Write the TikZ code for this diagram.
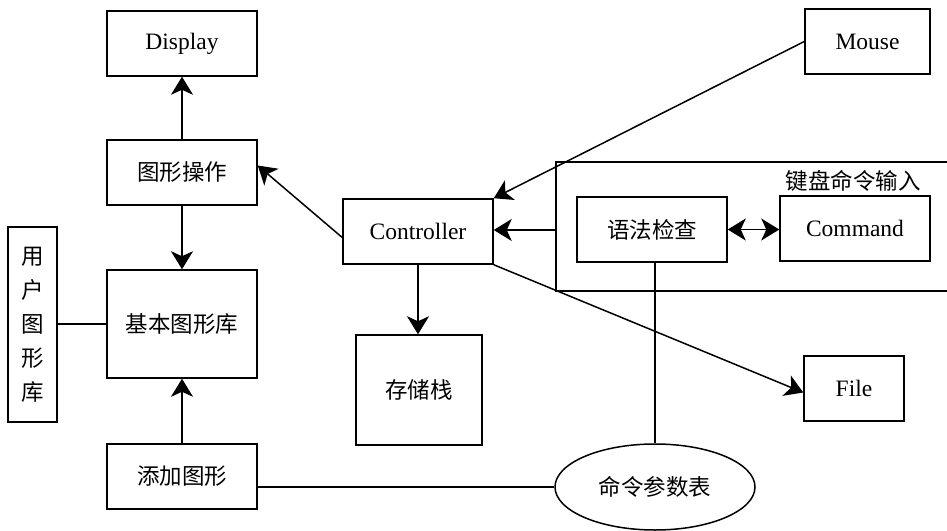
\documentclass[tikz,border=0pt]{standalone}
\usepackage{fontspec}
\setmainfont{Liberation Serif}
\newfontfamily\cjk{Noto Sans CJK SC}
\usetikzlibrary{arrows.meta,shapes.geometric,calc}
\begin{document}
\begin{tikzpicture}[x=1pt,y=-1pt,
  line width=1.5pt,
  box/.style={draw,rectangle,inner sep=0pt,font=\fontsize{23.5}{26}\selectfont},
  cbox/.style={box,font=\cjk\fontsize{22.5}{24}\selectfont},
  tip/.tip={Stealth[length=18pt,width=22pt,inset=5pt]},
  arr/.style={-tip},
  darr/.style={tip-tip}]
\fill[white] (0,0) rectangle (947,530);
\useasboundingbox (0,0) rectangle (947,530);
% nodes
\node[box,minimum width=150pt,minimum height=65pt] (disp) at (182,43.5) {Display};
\node[cbox,minimum width=150pt,minimum height=65pt] (op) at (182,172.5) {图形操作};
\node[cbox,minimum width=150pt,minimum height=108pt] (base) at (182,324) {基本图形库};
\node[cbox,minimum width=150pt,minimum height=65pt] (add) at (182,476.5) {添加图形};
\node[cbox,minimum width=49pt,minimum height=195pt,align=center,font=\cjk\fontsize{22.5}{34}\selectfont] (user) at (32.5,324.5) {用\\户\\图\\形\\库};
\node[box,minimum width=150pt,minimum height=65pt] (ctrl) at (418,231.5) {Controller};
\node[cbox,minimum width=126pt,minimum height=110pt] (stack) at (419,390) {存储栈};
\node[box,minimum width=125pt,minimum height=65pt] (mouse) at (867.5,41.5) {Mouse};
\node[cbox,minimum width=150pt,minimum height=65pt] (syn) at (652,229.5) {语法检查};
\node[box,minimum width=150pt,minimum height=65pt] (cmd) at (855,228.5) {Command};
\node[box,minimum width=100pt,minimum height=65pt] (file) at (854,388.5) {File};
\node[draw,ellipse,inner sep=0pt,minimum width=200pt,minimum height=86pt,font=\cjk\fontsize{22.5}{24}\selectfont] (param) at (655,487) {命令参数表};
% keyboard input group
\draw (947,162) -- (556,162) -- (556,291) -- (947,291);
\coordinate (kb) at (556,230);
\node[font=\cjk\fontsize{22.5}{24}\selectfont] (kblabel) at (853,181) {键盘命令输入};
% connectors
\draw[arr] (op) -- (disp);
\draw[arr] (op) -- (base);
\draw[arr] (add) -- (base);
\draw (user.east |- base.west) -- (base.west);
\draw (param.west -| add.east) -- (param.west);
\draw[arr] ([yshift=-6pt]ctrl.west) -- ([yshift=7pt]op.east);
\draw[arr] (ctrl) -- (stack.north -| ctrl.south);
\draw[arr] (mouse.west) -- (ctrl.north east);
\draw[arr] (kb) -- (kb -| ctrl.east);
\draw[darr] (syn.east) -- (cmd.west |- syn.east);
\draw (param.north) -- (param.north |- syn.south);
\draw[arr] (ctrl.south east) -- ([yshift=-4pt]file.west);
\end{tikzpicture}
\end{document}
